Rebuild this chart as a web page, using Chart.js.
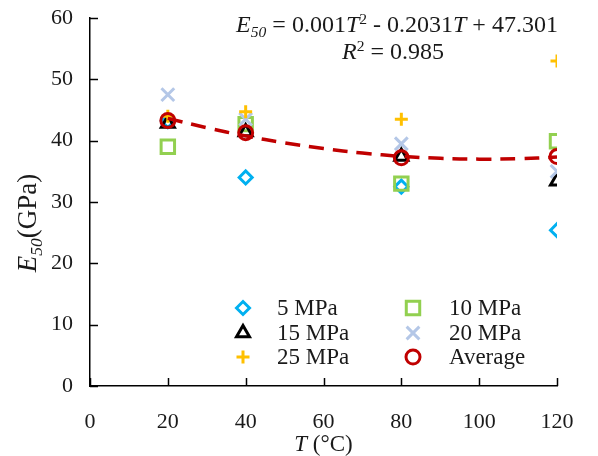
<!DOCTYPE html>
<html><head><meta charset="utf-8">
<script src="https://cdn.jsdelivr.net/npm/chart.js@4/dist/chart.umd.min.js"></script>
<style>html,body{margin:0;padding:0;background:#fff;}#wrap{width:598px;height:456px;position:relative;}</style>
</head><body><div id="wrap"><canvas id="c" width="598" height="456"></canvas></div>
<script>
// ---- data ----
const temps = [20, 40, 80, 120];
const e5  = [43.2, 34.0, 32.5, 25.4];
const e10 = [39.0, 42.7, 33.0, 39.9];
const e15 = [42.8, 41.4, 37.4, 33.4];
const e20 = [47.5, 43.5, 39.5, 35.0];
const e25 = [44.0, 44.7, 43.5, 53.0];
const eAvg = [43.3, 41.3, 37.2, 37.4];
const trendT = [20, 30, 40, 50, 60, 70, 80, 90, 100, 110, 120];
const trendE = [43.64, 42.11, 40.78, 39.65, 38.72, 37.98, 37.45, 37.12, 36.99, 37.06, 37.33];
const xTicks = [0, 20, 40, 60, 80, 100, 120];
const yTicks = [0, 10, 20, 30, 40, 50, 60];
const seriesNames = ['5 MPa', '10 MPa', '15 MPa', '20 MPa', '25 MPa', 'Average'];

const FONT = '"Liberation Serif", "Times New Roman", serif';
const TXT = '#1a1a1a';

function pts(xs, ys) { return xs.map((x, i) => ({ x: x, y: ys[i] })); }

const styles = [
  { name: seriesNames[0], data: e5,  color: '#00B0F0', ps: 'rectRot',  r: 6.5, bw: 3 },
  { name: seriesNames[1], data: e10, color: '#92D050', ps: 'rect',     r: 9.5, bw: 3 },
  { name: seriesNames[2], data: e15, color: '#000000', ps: 'triangle', r: 7.5, bw: 3 },
  { name: seriesNames[3], data: e20, color: '#B4C7E7', ps: 'crossRot', r: 9,   bw: 3 },
  { name: seriesNames[4], data: e25, color: '#FFC000', ps: 'cross',    r: 6.5, bw: 3 },
  { name: seriesNames[5], data: eAvg, color: '#C00000', ps: 'circle',  r: 7,   bw: 3 }
];

const datasets = styles.map((s, i) => ({
  label: s.name,
  data: pts(temps, s.data),
  showLine: false,
  pointStyle: s.ps,
  pointRadius: s.r,
  pointHoverRadius: s.r,
  pointBorderWidth: s.bw,
  pointBorderColor: s.color,
  pointBackgroundColor: 'rgba(255,255,255,0)',
  order: 10 - i
}));
datasets.push({
  label: 'trend',
  data: pts(trendT, trendE),
  showLine: true,
  borderColor: '#C00000',
  borderWidth: 3.5,
  borderDash: [15, 9],
  tension: 0.4,
  pointRadius: 0,
  fill: false,
  order: 1
});

function drawMarker(ctx, s, x, y) {
  ctx.save();
  ctx.strokeStyle = s.color;
  ctx.fillStyle = 'rgba(255,255,255,0)';
  ctx.lineWidth = s.bw;
  if (Chart.helpers && Chart.helpers.drawPoint) {
    Chart.helpers.drawPoint(ctx, { pointStyle: s.ps, radius: s.r, borderWidth: s.bw, rotation: 0 }, x, y);
  }
  ctx.restore();
}

function drawRich(ctx, segs, x, baseline, size, align) {
  const parts = segs.map(sg => {
    const fs = (sg.sub || sg.sup) ? size * 0.65 : size;
    const f = (sg.it ? 'italic ' : '') + fs + 'px ' + FONT;
    ctx.font = f;
    return { t: sg.t, f: f, w: ctx.measureText(sg.t).width, dy: sg.sub ? size * 0.22 : (sg.sup ? -size * 0.35 : 0) };
  });
  const total = parts.reduce((a, p) => a + p.w, 0);
  let cx = align === 'center' ? x - total / 2 : (align === 'right' ? x - total : x);
  ctx.textBaseline = 'alphabetic';
  ctx.textAlign = 'left';
  parts.forEach(p => { ctx.font = p.f; ctx.fillText(p.t, cx, baseline + p.dy); cx += p.w; });
}

const extras = {
  id: 'extras',
  afterDraw(chart) {
    const ctx = chart.ctx;
    const xs = chart.scales.x, ys = chart.scales.y;
    ctx.save();
    // inward tick marks
    ctx.strokeStyle = '#000';
    ctx.lineWidth = 1.5;
    xTicks.forEach(v => {
      const px = Math.round(xs.getPixelForValue(v)) + 0.5;
      ctx.beginPath(); ctx.moveTo(px, ys.bottom); ctx.lineTo(px, ys.bottom - 8); ctx.stroke();
    });
    yTicks.forEach(v => {
      const py = Math.round(ys.getPixelForValue(v)) + 0.5;
      ctx.beginPath(); ctx.moveTo(xs.left, py); ctx.lineTo(xs.left + 8, py); ctx.stroke();
    });
    ctx.fillStyle = TXT;
    // equation
    drawRich(ctx, [
      { t: 'E', it: true }, { t: '50', it: true, sub: true },
      { t: ' = 0.001' }, { t: 'T', it: true }, { t: '2', sup: true },
      { t: ' - 0.2031' }, { t: 'T', it: true }, { t: ' + 47.301' }
    ], 397, 32, 24, 'center');
    drawRich(ctx, [
      { t: 'R', it: true }, { t: '2', sup: true }, { t: ' = 0.985' }
    ], 393, 59, 24, 'center');
    // x title
    drawRich(ctx, [{ t: 'T', it: true }, { t: ' (°C)' }], xs.getPixelForValue(60), 451, 23, 'center');
    // y title
    ctx.save();
    ctx.translate(36, 223);
    ctx.rotate(-Math.PI / 2);
    drawRich(ctx, [{ t: 'E', it: true }, { t: '50', it: true, sub: true }, { t: '(GPa)' }], 0, 0, 27, 'center');
    ctx.restore();
    // legend
    const cols = [{ m: 243, t: 277 }, { m: 413, t: 449 }];
    const rows = [308, 333, 357];
    styles.forEach((s, i) => {
      const c = cols[i % 2], ry = rows[Math.floor(i / 2)];
      drawMarker(ctx, s, c.m, ry);
      ctx.fillStyle = TXT;
      ctx.font = '23px ' + FONT;
      ctx.textBaseline = 'middle';
      ctx.textAlign = 'left';
      ctx.fillText(s.name, c.t, ry + 1);
    });
    ctx.restore();
  }
};

new Chart(document.getElementById('c'), {
  type: 'scatter',
  data: { datasets: datasets },
  options: {
    responsive: false,
    animation: false,
    events: [],
    layout: { padding: { left: 0, right: 41, top: 18, bottom: 0 } },
    plugins: { legend: { display: false }, tooltip: { enabled: false } },
    scales: {
      x: {
        type: 'linear', min: 0, max: 120,
        afterBuildTicks(scale) { scale.ticks = xTicks.map(v => ({ value: v })); },
        afterFit(scale) { scale.height = 70; scale.paddingLeft = 0; scale.paddingRight = 0; },
        grid: { display: false, drawTicks: false },
        border: { display: true, color: '#000', width: 1.5 },
        ticks: { color: TXT, font: { family: FONT, size: 22 }, padding: 23, maxRotation: 0, autoSkip: false }
      },
      y: {
        type: 'linear', min: 0, max: 60,
        afterBuildTicks(scale) { scale.ticks = yTicks.map(v => ({ value: v })); },
        afterFit(scale) { scale.width = 90; scale.paddingTop = 0; scale.paddingBottom = 0; },
        grid: { display: false, drawTicks: false },
        border: { display: true, color: '#000', width: 1.5 },
        ticks: { color: TXT, font: { family: FONT, size: 22 }, padding: 17, autoSkip: false }
      }
    }
  },
  plugins: [extras]
});
</script></body></html>
